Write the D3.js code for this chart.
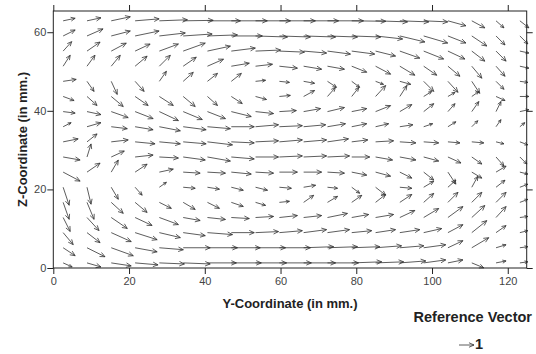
<!DOCTYPE html>
<html>
<head>
<meta charset="utf-8">
<script src="https://cdn.jsdelivr.net/npm/d3@7"></script>
<style>
  body { margin: 0; background: #fff; }
  svg { display: block; font-family: "Liberation Sans", Arial, sans-serif; }
</style>
</head>
<body>
<script>
// grid of the vector map (mm)
var yCols = [2.6, 8.9, 15.3, 21.6, 28.0, 34.3, 40.7, 47.0, 53.4, 59.7, 66.1, 72.4, 78.8, 85.1, 91.5, 97.8, 104.2, 110.5, 116.9, 123.2];
var zRows = [62.9, 59.05, 55.2, 51.35, 47.5, 43.65, 39.8, 35.95, 32.1, 28.25, 24.4, 20.55, 16.7, 12.85, 9.0, 5.15, 1.3];

// horizontal component, one row per zRows entry (top row first)
var U = [
  [.8, .93, 1.27, 1.6, 1.87, 2.0, 2.2, 2.4, 2.33, 2.4, 2.33, 2.4, 2.27, 2.13, 1.93, 1.6, 1.2, .87, .53, .6],
  [.8, 1.07, 1.27, 1.6, 1.73, 1.93, 2.0, 2.07, 2.13, 2.07, 2.13, 2.0, 1.93, 1.8, 1.67, 1.6, 1.2, 1.0, .6, .53],
  [.57, .87, 1.0, 1.0, 1.27, 1.47, 1.53, 1.6, 1.67, 1.67, 1.53, 1.53, 1.53, 1.33, 1.33, 1.33, 1.13, .87, .67, .6],
  [.47, .53, .6, .8, .73, .87, 1.07, 1.2, 1.13, 1.2, 1.2, 1.13, 1.0, 1.0, 1.0, .87, .8, .67, .6, .6],
  [.87, .47, .4, .6, .47, .67, .67, .67, .67, .67, .73, .6, .53, .53, .73, .67, .67, .53, .53, .53],
  [.73, .67, .8, .87, .93, .8, .67, .73, .73, .73, .73, .53, .47, .67, .47, .53, .47, .47, .6, .6],
  [.8, .93, 1.13, 1.2, 1.27, 1.27, 1.2, 1.33, 1.2, 1.13, 1.13, 1.13, 1.0, 1.0, .8, .67, .47, .47, .33, .6],
  [.53, .93, 1.07, 1.2, 1.4, 1.53, 1.53, 1.53, 1.53, 1.53, 1.47, 1.2, 1.0, .87, .87, .6, .53, .4, .33, .33],
  [1.0, .67, 1.13, 1.33, 1.4, 1.53, 1.67, 1.53, 1.53, 1.53, 1.53, 1.4, 1.07, 1.2, 1.07, 1.0, .8, .8, .53, .53],
  [1.13, .27, .87, 1.2, 1.27, 1.47, 1.53, 1.53, 1.53, 1.53, 1.53, 1.47, 1.2, 1.13, 1.07, 1.0, .87, .67, .53, .47],
  [1.13, .87, .47, .8, .93, 1.13, 1.2, 1.33, 1.2, 1.2, 1.2, 1.13, 1.0, 1.0, .8, .67, .53, .67, .67, .53],
  [.4, .27, .47, .47, .47, .8, .8, .8, .8, .8, .8, .67, .53, .67, .8, .67, .53, .4, .6, .53],
  [.4, .47, .8, .8, .8, .8, .8, .8, .67, .67, .67, .67, .67, .67, .8, .67, .67, .67, .67, .53],
  [.47, .8, 1.07, 1.13, 1.27, 1.13, 1.2, 1.2, 1.2, 1.2, 1.2, 1.33, 1.13, 1.2, 1.0, 1.0, 1.0, .87, .67, .53],
  [.67, .87, 1.33, 1.47, 1.4, 1.47, 1.67, 1.53, 1.53, 1.53, 1.53, 1.47, 1.33, 1.33, 1.33, 1.2, 1.0, 1.0, .67, .53],
  [.8, 1.2, 1.47, 1.47, 1.6, 1.8, 2.0, 1.93, 2.0, 2.07, 2.0, 2.0, 1.87, 1.73, 1.6, 1.47, 1.0, 1.13, .67, .53],
  [.6, .93, 1.33, 1.53, 1.67, 1.8, 1.93, 2.0, 2.07, 2.13, 2.13, 2.07, 2.0, 1.87, 1.73, 1.47, 1.0, .8, .67, .53]
];

// vertical component
var W = [
  [.17, .2, .27, .13, .07, .03, 0, 0, 0, 0, 0, 0, -.03, -.07, -.07, -.07, -.33, -.47, -.47, -.47],
  [.4, .47, .33, .33, .2, .13, .07, 0, -.07, -.07, -.07, -.07, -.07, -.2, -.4, -.47, -.47, -.67, -.6, -.53],
  [.63, .6, .53, .47, .47, .53, .33, .2, .07, -.07, -.13, -.2, -.2, -.33, -.47, -.53, -.53, -.67, -.67, -.13],
  [.73, .73, .73, .67, .73, .6, .47, .2, .13, -.13, -.2, -.2, -.4, -.53, -.6, -.6, -.67, -.8, -.67, -.13],
  [.13, -.67, -.87, -.67, .67, .6, .53, .53, .07, -.07, -.13, -.4, -.4, -.2, -.2, -.67, -.73, -.8, -.53, -.07],
  [-.27, -.6, -.67, -.6, -.6, -.67, -.6, -.47, -.2, .07, .4, .6, .6, .73, .73, .33, .27, .33, -.27, 0],
  [-.1, -.2, -.4, -.47, -.6, -.53, -.47, -.33, -.13, .07, .2, .27, .2, .4, .47, .53, .53, .67, .67, .13],
  [.27, .27, -.13, -.2, -.27, -.2, -.13, 0, .13, .07, .13, .2, .2, .2, .13, .2, .33, .4, .47, .27],
  [.2, .53, .13, -.13, -.13, -.13, -.2, -.07, .07, .13, .13, .2, .13, .07, -.07, -.07, -.07, -.07, -.13, -.2],
  [-.2, .87, .4, .13, -.07, -.2, -.27, -.13, 0, .07, .07, .07, 0, -.2, -.2, -.27, -.4, -.47, -.6, -.47],
  [-.6, .6, .8, .53, .2, -.07, -.07, -.13, -.07, 0, 0, -.07, -.2, -.27, -.4, -.53, -.8, -.4, .4, -.13],
  [-1.2, -1.13, -.8, -.53, .33, -.07, -.13, -.2, -.2, -.07, .13, -.07, -.4, -.53, -.07, .4, .47, .73, .47, .2],
  [-1.13, -1.13, -.73, -.67, -.4, -.47, -.4, -.27, -.2, .07, .47, .4, .47, .53, .53, .6, .67, .67, .67, .2],
  [-.93, -.87, -.73, -.53, -.47, -.2, -.13, -.07, .07, .13, .13, .27, .2, .2, .47, .6, .73, .8, .73, .07],
  [-.8, -.67, -.6, -.47, -.33, -.2, -.13, 0, .07, .13, .2, .2, .13, .2, .2, .27, .53, .8, .47, .13],
  [-.53, -.6, -.53, -.27, -.13, 0, 0, 0, 0, 0, .07, .07, .07, .13, .13, .2, .47, .67, .2, .07],
  [-.27, -.27, -.2, -.13, -.07, -.07, 0, 0, 0, 0, 0, 0, .07, .07, .13, .2, .2, -.33, .13, .07]
];

var xTicks = [0, 20, 40, 60, 80, 100, 120];
var yTicks = [0, 20, 40, 60];
var refValue = 1;

var width = 536, height = 354;
var svg = d3.select("body").append("svg")
  .attr("width", width)
  .attr("height", height);

var x = d3.scaleLinear().domain([0, 125]).range([53.3, 526.7]);
var y = d3.scaleLinear().domain([0, 65.4]).range([268, 11]);
// 1 unit of velocity drawn as 15 px
var vlen = d3.scaleLinear().domain([0, 1]).range([0, 15]);

// flatten grid into points
var vectors = [];
zRows.forEach(function (z, j) {
  yCols.forEach(function (yy, i) {
    vectors.push({ y: yy, z: z, u: U[j][i], w: W[j][i] });
  });
});

function arrowPath(x0, y0, u, w) {
  var dx = vlen(u), dy = -vlen(w);
  var L = Math.sqrt(dx * dx + dy * dy);
  var x1 = x0 + dx, y1 = y0 + dy;
  var a = Math.atan2(dy, dx);
  var h = Math.max(3.5, Math.min(5.5, L * 0.38));
  var s = 24 * Math.PI / 180;
  var bx1 = x1 - h * Math.cos(a - s), by1 = y1 - h * Math.sin(a - s);
  var bx2 = x1 - h * Math.cos(a + s), by2 = y1 - h * Math.sin(a + s);
  return "M" + x0 + "," + y0 + "L" + x1 + "," + y1 +
    "M" + bx1 + "," + by1 + "L" + x1 + "," + y1 + "L" + bx2 + "," + by2;
}

svg.append("g")
  .selectAll("path")
  .data(vectors)
  .enter()
  .append("path")
  .attr("d", function (d) { return arrowPath(x(d.y), y(d.z), d.u, d.w); })
  .attr("fill", "none")
  .attr("stroke", "#333")
  .attr("stroke-width", 0.8);

// frame
svg.append("rect")
  .attr("x", x(0)).attr("y", y(65.4))
  .attr("width", x(125) - x(0)).attr("height", y(0) - y(65.4))
  .attr("fill", "none").attr("stroke", "#222").attr("stroke-width", 1);

function styleAxis(g) {
  g.select(".domain").remove();
  g.selectAll(".tick line").attr("stroke", "#222");
  g.selectAll(".tick text").attr("fill", "#444").style("font-size", "11px");
}

svg.append("g")
  .attr("transform", "translate(0," + y(0) + ")")
  .call(d3.axisBottom(x).tickValues(xTicks).tickSize(6).tickPadding(3))
  .call(styleAxis);

svg.append("g")
  .attr("transform", "translate(0," + y(65.4) + ")")
  .call(d3.axisTop(x).tickValues(xTicks).tickSize(6).tickFormat(""))
  .call(styleAxis);

svg.append("g")
  .attr("transform", "translate(" + x(0) + ",0)")
  .call(d3.axisLeft(y).tickValues(yTicks).tickSize(6).tickPadding(1))
  .call(styleAxis);

svg.append("g")
  .attr("transform", "translate(" + x(125) + ",0)")
  .call(d3.axisRight(y).tickValues(yTicks).tickSize(6).tickFormat(""))
  .call(styleAxis);

// axis titles
svg.append("text")
  .attr("x", (x(0) + x(125)) / 2)
  .attr("y", 308)
  .attr("text-anchor", "middle")
  .style("font-size", "13px")
  .style("font-weight", "bold")
  .attr("fill", "#222")
  .text("Y-Coordinate (in mm.)");

svg.append("text")
  .attr("transform", "translate(27," + ((y(0) + y(65.4)) / 2) + ") rotate(-90)")
  .attr("text-anchor", "middle")
  .style("font-size", "13px")
  .style("font-weight", "bold")
  .attr("fill", "#222")
  .text("Z-Coordinate (in mm.)");

// reference vector legend
svg.append("text")
  .attr("x", 532)
  .attr("y", 322)
  .attr("text-anchor", "end")
  .style("font-size", "14.5px")
  .style("font-weight", "bold")
  .attr("fill", "#222")
  .text("Reference Vector");

svg.append("path")
  .attr("d", arrowPath(459, 345, refValue, 0))
  .attr("fill", "none")
  .attr("stroke", "#333")
  .attr("stroke-width", 0.8);

svg.append("text")
  .attr("x", 475)
  .attr("y", 349)
  .style("font-size", "14.5px")
  .style("font-weight", "bold")
  .attr("fill", "#222")
  .text(refValue);
</script>
</body>
</html>
